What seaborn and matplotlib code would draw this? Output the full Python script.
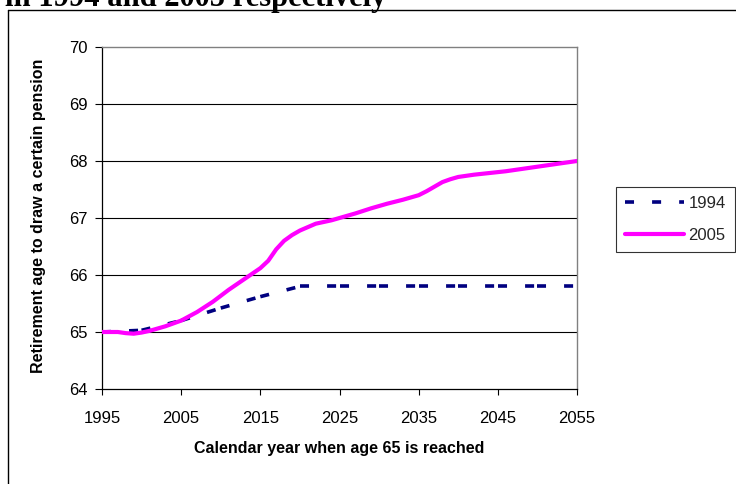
import matplotlib
matplotlib.use("Agg")
import matplotlib.pyplot as plt
from matplotlib.lines import Line2D
import numpy as np
import pandas as pd
import seaborn as sns

# Retirement age schedules under the 1994 and 2005 rules
years_1994 = [1995, 2000, 2005, 2010, 2015, 2020, 2025, 2030, 2035, 2040, 2045, 2050, 2055]
age_1994 = [65.0, 65.03, 65.2, 65.42, 65.62, 65.8, 65.8, 65.8, 65.8, 65.8, 65.8, 65.8, 65.8]

years_2005 = [1995, 1997, 1998, 1999, 2000, 2001, 2003, 2005, 2007, 2009, 2011, 2013,
              2015, 2016, 2017, 2018, 2019, 2020, 2021, 2022, 2023, 2024, 2025, 2027,
              2029, 2031, 2033, 2035, 2036, 2037, 2038, 2039, 2040, 2042, 2044, 2046,
              2048, 2050, 2052, 2055]
age_2005 = [65.0, 65.0, 64.98, 64.97, 64.99, 65.02, 65.1, 65.2, 65.35, 65.53, 65.74, 65.93,
            66.12, 66.25, 66.45, 66.6, 66.7, 66.78, 66.84, 66.9, 66.93, 66.96, 67.0, 67.08,
            67.17, 67.25, 67.32, 67.4, 67.47, 67.55, 67.63, 67.68, 67.72, 67.76, 67.79, 67.82,
            67.86, 67.9, 67.94, 68.0]

x_ticks = [1995, 2005, 2015, 2025, 2035, 2045, 2055]
y_ticks = [64, 65, 66, 67, 68, 69, 70]
series_names = ["1994", "2005"]

NAVY = "#000080"
MAGENTA = "#FF00FF"

sns.set_theme(style="white")
plt.rcParams["font.family"] = ["Liberation Sans", "DejaVu Sans"]
plt.rcParams["lines.scale_dashes"] = False

fig = plt.figure(figsize=(7.36, 4.84), dpi=100)
ax = fig.add_axes([102 / 736, 1 - 389 / 484, 475 / 736, 342 / 484])

# Grid lines behind the data
for v in y_ticks[1:-1]:
    ax.axhline(v, color="black", lw=0.8, zorder=1)

# 1994 rule: each 5-year segment is drawn on its own so the dash pattern restarts
seg_rows = []
for i in range(len(years_1994) - 1):
    seg_rows.append({"year": years_1994[i], "age": age_1994[i], "seg": i})
    seg_rows.append({"year": years_1994[i + 1], "age": age_1994[i + 1], "seg": i})
df_1994 = pd.DataFrame(seg_rows)
n_before = len(ax.lines)
sns.lineplot(data=df_1994, x="year", y="age", units="seg", estimator=None,
             color=NAVY, lw=2.6, ax=ax, legend=False, zorder=3)
for ln in ax.lines[n_before:]:
    ln.set_linestyle((0, (6.5, 13)))
    ln.set_dash_capstyle("butt")

# 2005 rule
df_2005 = pd.DataFrame({"year": years_2005, "age": age_2005})
sns.lineplot(data=df_2005, x="year", y="age", color=MAGENTA, lw=3.0, ax=ax,
             legend=False, zorder=4)

ax.set_xlim(1995, 2055)
ax.set_ylim(64, 70)
ax.set_xticks(x_ticks)
ax.set_yticks(y_ticks)
ax.tick_params(axis="both", direction="out", width=0.8, color="black",
               labelsize=12, labelcolor="black")
ax.tick_params(axis="x", pad=12, length=4, bottom=True)
ax.tick_params(axis="y", pad=5, length=5, left=True)

for side in ["left", "bottom"]:
    ax.spines[side].set_color("black")
    ax.spines[side].set_linewidth(0.9)
for side in ["top", "right"]:
    ax.spines[side].set_color("#808080")
    ax.spines[side].set_linewidth(1.0)

ax.set_xlabel("Calendar year when age 65 is reached", fontsize=11.5, fontweight="bold",
              color="black")
ax.xaxis.set_label_coords(0.5, (389 - 441) / 342)
ax.set_ylabel("Retirement age to draw a certain pension", fontsize=11.5, fontweight="bold",
              color="black")
ax.yaxis.set_label_coords((46 - 102) / 475, (389 - 216) / 342)

# Legend
handles = [
    Line2D([], [], color=NAVY, lw=2.6, linestyle=(0, (6.5, 13)), dash_capstyle="butt"),
    Line2D([], [], color=MAGENTA, lw=3.0),
]
leg = fig.legend(handles, series_names, loc="upper left",
                 bbox_to_anchor=(616 / 736, 1 - 187 / 484), fontsize=12,
                 frameon=True, fancybox=False, handlelength=3.5, handletextpad=0.3,
                 borderpad=0.55, labelspacing=1.0, borderaxespad=0)
leg.get_frame().set_edgecolor("black")
leg.get_frame().set_linewidth(0.8)

# Outer chart frame and the caption line above it
fig.add_artist(Line2D([8 / 736, 1.0], [1 - 9.5 / 484, 1 - 9.5 / 484],
                      transform=fig.transFigure, color="black", lw=1.0))
fig.add_artist(Line2D([8 / 736, 8 / 736], [0.0, 1 - 9.5 / 484],
                      transform=fig.transFigure, color="black", lw=1.0))
fig.text(5 / 736, 1 - 6 / 484, "in 1994 and 2005 respectively", fontsize=22,
         fontweight="bold", family=["Liberation Serif", "DejaVu Serif"],
         va="baseline", ha="left", color="black")

fig.savefig("out.png", dpi=100)
